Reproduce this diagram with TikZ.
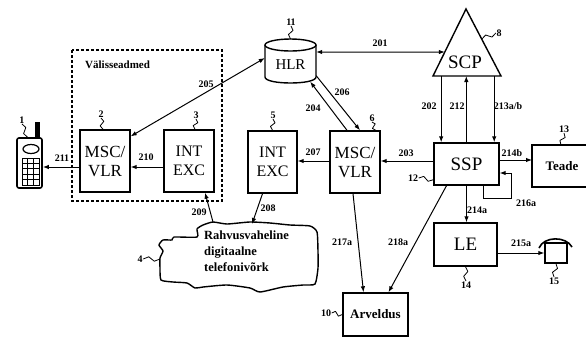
\documentclass[tikz,border=0pt]{standalone}
\usepackage{fontspec}
\setmainfont{Liberation Serif}
\usetikzlibrary{calc,arrows.meta}
\newcommand{\squig}[2]{\draw[lead] #1 -- ($#1!0.33!#2!2.2pt!90:#2$) -- ($#1!0.66!#2!2.2pt!-90:#2$) -- #2;}
\begin{document}
\begin{tikzpicture}[x=1pt,y=-1pt,
  box/.style={draw,line width=1.4pt,inner sep=0pt,align=center},
  arr/.style={line width=1pt,-{Latex[length=6pt,width=4.5pt]}},
  darr/.style={line width=1pt,{Latex[length=6pt,width=4.5pt]}-{Latex[length=6pt,width=4.5pt]}},
  num/.style={font=\fontsize{10}{11}\selectfont\bfseries,inner sep=0.5pt},
  lead/.style={line width=0.8pt,line join=round},
  fmsc/.style={font=\fontsize{17}{19}\selectfont},
  fint/.style={font=\fontsize{16}{19}\selectfont},
  fbig/.style={font=\fontsize{19}{20}\selectfont},
  fsmall/.style={font=\fontsize{13}{16}\selectfont\bfseries},
]
\useasboundingbox (0,0) rectangle (586,338);

% dashed frame
\draw[line width=1.2pt,dash pattern=on 3pt off 2pt] (72,50) rectangle (222,201);
\node[font=\fontsize{11}{12}\selectfont\bfseries,anchor=west,inner sep=0pt] (vlab) at (85,65) {Välisseadmed};

% phone 1
\node[draw,line width=1.6pt,rounded corners=2pt,minimum width=25pt,minimum height=50pt,inner sep=0pt] (phone1) at (29.5,163) {};
\draw[line width=1.2pt] (31,149) ellipse [x radius=8, y radius=4.5];
\draw[line width=0.9pt] (22,158) rectangle (39,185);
\foreach \i in {1,2} \draw[line width=0.9pt] (22+\i*17/3,158) -- (22+\i*17/3,185);
\foreach \j in {1,...,4} \draw[line width=0.9pt] (22,158+\j*27/5) -- (39,158+\j*27/5);
\fill (35,122) rectangle (40,137);

% boxes
\node[box,fmsc,minimum width=50pt,minimum height=62pt] (msc2) at (105,161) {MSC/\\VLR};
\node[box,fint,minimum width=50pt,minimum height=62pt] (int3) at (189,161) {INT\\EXC};
\node[box,fint,minimum width=49pt,minimum height=62pt] (int5) at (272.5,162) {INT\\EXC};
\node[box,fmsc,minimum width=50pt,minimum height=62pt] (msc6) at (355,162) {MSC/\\VLR};
\node[box,fbig,minimum width=65pt,minimum height=42pt] (ssp) at (466.5,164) {SSP};
\node[box,fbig,minimum width=63pt,minimum height=43pt] (le) at (465.5,244.5) {LE};
\node[box,fsmall,minimum width=65pt,minimum height=43pt] (arv) at (375.5,314.5) {Arveldus};

% Teade (cut by the page edge)
\draw[line width=1.4pt] (587,145) -- (532,145) -- (532,187) -- (587,187);
\coordinate (teadeW) at (532,166);
\node[fsmall] (teade) at (562,166) {Teade};

% HLR cylinder
\node[minimum width=51pt,minimum height=45pt,inner sep=0pt] (hlr) at (290.5,61) {};
\draw[line width=1.4pt] (265,45) -- (265,77) .. controls (265,85) and (316,85) .. (316,77) -- (316,45);
\draw[line width=1.4pt] (290.5,45) ellipse [x radius=25.5, y radius=6];
\node[font=\fontsize{15}{16}\selectfont] (hlrtxt) at (290.5,65) {HLR};

% SCP triangle
\coordinate (scpL) at (433,76);
\coordinate (scpT) at (466,9);
\coordinate (scpR) at (501,76);
\draw[line width=1.4pt,line join=miter] (scpL) -- (scpT) -- (scpR) -- cycle;
\node[fbig] (scp) at (465,62) {SCP};
\coordinate (b202) at ($(scpL)!0.12!(scpR)$);
\coordinate (b212) at ($(scpL)!0.49!(scpR)$);
\coordinate (b213) at ($(scpL)!0.9!(scpR)$);
\coordinate (s201) at ($(scpL)!0.358!(scpT)$);

% phone 15
\node[draw,line width=1.4pt,minimum width=22pt,minimum height=20pt,inner sep=0pt] (ph15) at (556,253) {};
\draw[line width=1.6pt] (539,248) .. controls (544,236) and (566,236) .. (572,247);

% cloud
\draw[line width=1.4pt] plot[smooth cycle,tension=0.35] coordinates {
 (197,229) (203,225) (213,222) (227,224) (250,222) (270,223) (290,225) (310,226)
 (317,232) (318,252) (318,268) (315,284) (303,285) (283,287) (260,292) (250,288)
 (227,285) (203,287) (195,288) (187,283) (173,282) (161,280) (160,268) (160,258)
 (163,251) (159,245) (163,240) (172,240) (174,237) (197,237)};
\node[font=\fontsize{12.5}{16}\selectfont\bfseries,align=left,anchor=north west,inner sep=0pt] (cloud) at (204,231) {Rahvusvaheline\\digitaalne\\telefonivõrk};
\coordinate (c208) at (252,224);
\coordinate (c209) at (213,222);

% connectors
\coordinate (p211) at ([yshift=-6pt]msc2.west);
\draw[arr] (p211) -- (p211 -| phone1.east);
\coordinate (p210) at ([yshift=-6pt]int3.west);
\draw[arr] (p210) -- (p210 -| msc2.east);
\draw[darr] ([yshift=-7pt]msc2.north east) -- ([yshift=3pt]hlr.west);
\coordinate (p201) at ([yshift=9pt]hlr.east);
\draw[darr] (p201) -- (s201);
\draw[arr] ([yshift=8pt]hlr.south east) -- ([xshift=5pt]msc6.north);
\draw[arr] ([xshift=-8pt]msc6.north) -- ([xshift=-6pt,yshift=2pt]hlr.south east);
\coordinate (p207) at ([yshift=1pt]msc6.west);
\draw[arr] (p207) -- (p207 -| int5.east);
\coordinate (p203) at ([yshift=3pt]ssp.west);
\draw[arr] (p203) -- (p203 -| msc6.east);
\draw[arr] (b202) -- (b202 |- ssp.north);
\draw[arr] (b212 |- ssp.north) -- (b212);
\draw[arr] (b213) -- (b213 |- ssp.north);
\coordinate (p214) at ([yshift=4pt]ssp.east);
\draw[arr] (p214) -- (p214 -| teadeW);
\draw[arr] ([xshift=16.5pt]ssp.south) -- ++(0,13) -- ++(28,0) |- ([yshift=-9pt]ssp.east);
\draw[arr] (ssp.south) -- (ssp.south |- le.north);
\draw[arr] ([xshift=-20pt]ssp.south) -- ([xshift=13pt]arv.north);
\draw[arr] ([xshift=-2pt]msc6.south) -- ([xshift=-12pt]arv.north);
\coordinate (p215) at ([yshift=-8.5pt]le.east);
\draw[arr] (p215) -- (p215 -| ph15.west);
\draw[arr] ([xshift=-10pt]int5.south) -- (c208);
\draw[arr] (c209) -- ([xshift=16pt]int3.south);

% connector labels
\node[num] (l211) at (62,158) {211};
\node[num] (l210) at (146,157) {210};
\node[num] (l205) at (206,84) {205};
\node[num] (l201) at (380,43) {201};
\node[num] (l206) at (342,92) {206};
\node[num] (l204) at (313,108) {204};
\node[num] (l207) at (313,152) {207};
\node[num] (l203) at (406,153) {203};
\node[num] (l202) at (429,106) {202};
\node[num] (l212) at (457,106) {212};
\node[num] (l213) at (508,106) {213a/b};
\node[num] (l214b) at (512,153) {214b};
\node[num] (l216) at (526,203) {216a};
\node[num] (l214a) at (477,210) {214a};
\node[num] (l218) at (398,242) {218a};
\node[num] (l217) at (342,242) {217a};
\node[num] (l215) at (521,243) {215a};
\node[num] (l208) at (268,208) {208};
\node[num] (l209) at (199,212) {209};

% reference numerals with leads
\node[num] (n1) at (22,120) {1};
\squig{(n1.south)}{([xshift=-2pt]phone1.north)}
\node[num] (n2) at (101,114) {2};
\squig{(n2.south)}{([xshift=-2pt]msc2.north)}
\node[num] (n3) at (196,115) {3};
\squig{(n3.south)}{([xshift=6pt]int3.north)}
\node[num] (n11) at (291,22) {11};
\squig{(n11.south)}{(290.5,39)}
\node[num] (n5) at (273,115) {5};
\squig{(n5.south)}{(int5.north)}
\node[num] (n6) at (372,118) {6};
\squig{(n6.south)}{([xshift=-5pt]msc6.north east)}
\node[num] (n8) at (499,33) {8};
\squig{(n8.west)}{($(scpT)!0.45!(scpR)$)}
\node[num] (n13) at (564,129) {13};
\squig{(n13.south)}{(561,145)}
\node[num] (n12) at (413,178) {12};
\squig{(n12.east)}{([yshift=6pt]ssp.south west)}
\node[num] (n14) at (466,285) {14};
\squig{(n14.north)}{(le.south)}
\node[num] (n15) at (554,281) {15};
\squig{(n15.north)}{(ph15.south)}
\node[num] (n10) at (326,313) {10};
\squig{(n10.east)}{(arv.west)}
\node[num] (n4) at (140,259) {4};
\squig{(n4.east)}{(160,259)}
\end{tikzpicture}
\end{document}
